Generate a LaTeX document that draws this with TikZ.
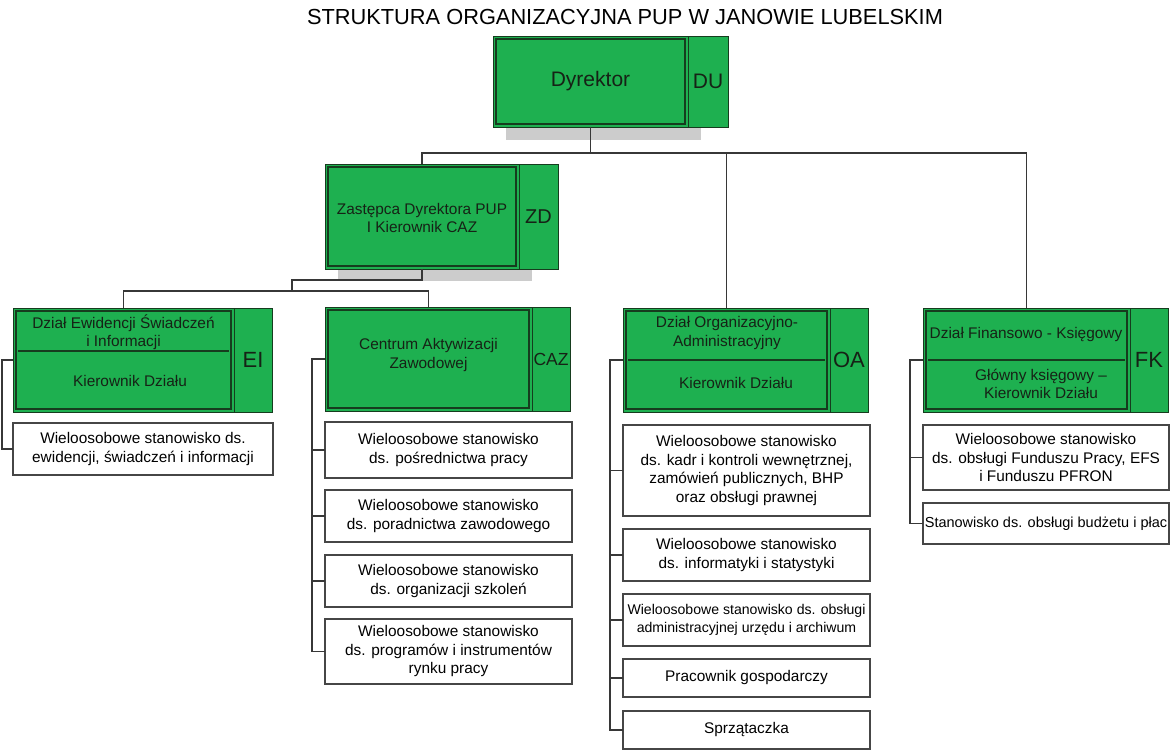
\documentclass[tikz,border=0pt]{standalone}
\usepackage{fontspec}
\setmainfont{Liberation Sans}
\definecolor{pupgreen}{RGB}{30,176,80}
\definecolor{dkgreen}{RGB}{22,60,30}
\definecolor{shadowgray}{RGB}{204,204,204}
\definecolor{linegray}{RGB}{55,55,55}
\definecolor{boxgray}{RGB}{70,70,70}
\definecolor{txtdark}{RGB}{22,34,22}
\tikzset{
  mainbox/.style={draw=dkgreen, fill=pupgreen, line width=0.8pt, anchor=north west,
    inner sep=0pt, outer sep=0pt, align=center, text=txtdark,
    font=\fontsize{15.4}{18.5}\selectfont,
    path picture={\draw[dkgreen, line width=1.6pt]
      ([shift={(3.2pt,-3.2pt)}]path picture bounding box.north west) rectangle
      ([shift={(-3.2pt,3.2pt)}]path picture bounding box.south east);}},
  codebox/.style={draw=dkgreen, fill=pupgreen, line width=0.8pt, anchor=north west,
    inner sep=0pt, outer sep=0pt, text=txtdark, font=\fontsize{22}{24}\selectfont},
  gtext/.style={align=center, text=txtdark, inner sep=0pt, font=\fontsize{15.4}{18.5}\selectfont},
  wbox/.style={draw=boxgray, fill=white, line width=1.1pt, anchor=north west,
    inner sep=0pt, outer sep=0pt, align=center, font=\fontsize{15.4}{18.5}\selectfont},
  conn/.style={draw=linegray, line width=1.1pt},
  divline/.style={draw=dkgreen, line width=1.1pt},
}
\begin{document}
\begin{tikzpicture}[x=1pt, y=-1pt]
\useasboundingbox (0,0) rectangle (1170,755);

% title
\node[font=\fontsize{21.8}{24}\selectfont, inner sep=0pt] (title) at (625,17)
  {STRUKTURA ORGANIZACYJNA PUP W JANOWIE LUBELSKIM};

% shadows
\fill[shadowgray] (506,49) rectangle (701,140);
\fill[shadowgray] (338,177) rectangle (532,281);

% helper coordinates
\coordinate (j1) at (590,153);
\coordinate (j2) at (292,280);
\coordinate (j3) at (292,291);
\coordinate (cazx) at (312,0);
\coordinate (oax) at (610,0);
\coordinate (fkx) at (910,0);
\coordinate (eix) at (2,0);

% top level
\node[mainbox, minimum width=195pt, minimum height=91pt] (dyr) at (493,36) {};
\node[gtext, font=\fontsize{21}{24}\selectfont] (dyrt) at (590.5,81) {Dyrektor};
\node[codebox, minimum width=40pt, minimum height=91pt, font=\fontsize{21}{24}\selectfont] (du) at (688,36) {DU};

\node[mainbox, minimum width=194pt, minimum height=105pt] (zd) at (325,164) {};
\node[gtext] (zdt) at (422,218) {Zastępca Dyrektora PUP\\I Kierownik CAZ};
\node[codebox, minimum width=39pt, minimum height=105pt, font=\fontsize{20}{24}\selectfont] (zdc) at (519,164) {ZD};

\node[mainbox, minimum width=221pt, minimum height=104pt] (ei) at (13,308) {};
\node[codebox, minimum width=38pt, minimum height=104pt] (eic) at (234,308) {EI};

\node[mainbox, minimum width=207pt, minimum height=104pt] (caz) at (325,307) {};
\node[gtext] (cazt) at (428.5,355) {Centrum Aktywizacji\\Zawodowej};
\node[codebox, minimum width=38pt, minimum height=104pt, font=\fontsize{17.5}{20}\selectfont] (cazc) at (532,307) {CAZ};

\node[mainbox, minimum width=207pt, minimum height=104pt] (oa) at (623,308) {};
\node[codebox, minimum width=38pt, minimum height=104pt] (oac) at (830,308) {OA};

\node[mainbox, minimum width=207pt, minimum height=104pt] (fk) at (923,308) {};
\node[codebox, minimum width=38pt, minimum height=104pt] (fkc) at (1130,308) {FK};

% dividers and texts in divided boxes
\draw[divline] (18,351) -- (229,351);
\node[gtext] (eit) at (123.5,332) {Dział Ewidencji Świadczeń\\i Informacji};
\node[gtext] (eik) at (130,381) {Kierownik Działu};

\draw[divline] (628,360) -- (825,360);
\node[gtext] (oat) at (727,333) {Dział Organizacyjno-\\Administracyjny};
\node[gtext] (oak) at (736,383) {Kierownik Działu};

\draw[divline] (928,360) -- (1125,360);
\node[gtext] (fkt) at (1026,335) {Dział Finansowo - Księgowy};
\node[gtext] (fkk) at (1041,384) {Główny księgowy –\\Kierownik Działu};

% white boxes
\node[wbox, minimum width=260pt, minimum height=52pt] (eis) at (13,423) {Wieloosobowe stanowisko ds.\\ewidencji, świadczeń i informacji};

\node[wbox, minimum width=247pt, minimum height=56pt] (c1) at (325,422) {Wieloosobowe stanowisko\\ds. pośrednictwa pracy};
\node[wbox, minimum width=247pt, minimum height=52pt] (c2) at (325,490) {Wieloosobowe stanowisko\\ds. poradnictwa zawodowego};
\node[wbox, minimum width=247pt, minimum height=52pt] (c3) at (325,555) {Wieloosobowe stanowisko\\ds. organizacji szkoleń};
\node[wbox, minimum width=247pt, minimum height=65pt] (c4) at (325,619) {Wieloosobowe stanowisko\\ds. programów i instrumentów\\rynku pracy};

\node[wbox, minimum width=247pt, minimum height=91pt] (o1) at (623,425) {Wieloosobowe stanowisko\\ds. kadr i kontroli wewnętrznej,\\zamówień publicznych, BHP\\oraz obsługi prawnej};
\node[wbox, minimum width=247pt, minimum height=52pt] (o2) at (623,529) {Wieloosobowe stanowisko\\ds. informatyki i statystyki};
\node[wbox, minimum width=247pt, minimum height=52pt, font=\fontsize{14.1}{17.5}\selectfont] (o3) at (623,594) {Wieloosobowe stanowisko ds. obsługi\\administracyjnej urzędu i archiwum};
\node[wbox, minimum width=247pt, minimum height=38pt] (o4) at (623,659) {Pracownik gospodarczy};
\node[wbox, minimum width=247pt, minimum height=38pt] (o5) at (623,711) {Sprzątaczka};

\node[wbox, minimum width=246pt, minimum height=65pt] (f1) at (923,425) {Wieloosobowe stanowisko\\ds. obsługi Funduszu Pracy, EFS\\i Funduszu PFRON};
\node[wbox, minimum width=246pt, minimum height=41pt, font=\fontsize{14.5}{17.5}\selectfont] (f2) at (923,503) {Stanowisko ds. obsługi budżetu i płac};

% connectors
\draw[conn] (dyr.south) -- (dyr.south |- j1);
\draw[conn] (zd.north) |- (fk.north |- j1) -- (fk.north);
\draw[conn] (oa.north) -- (oa.north |- j1);

\draw[conn] (zd.south) |- (j2) -- (j3);
\draw[conn] (ei.north) |- (j3) -| (caz.north);

\draw[conn] (ei.west) -| (eix |- eis.west) -- (eis.west);

\draw[conn] (caz.west) -| (cazx |- c4.west) -- (c4.west);
\draw[conn] (c1.west) -- (c1.west -| cazx);
\draw[conn] (c2.west) -- (c2.west -| cazx);
\draw[conn] (c3.west) -- (c3.west -| cazx);

\draw[conn] (oa.west) -| (oax |- o5.west) -- (o5.west);
\draw[conn] (o1.west) -- (o1.west -| oax);
\draw[conn] (o2.west) -- (o2.west -| oax);
\draw[conn] (o3.west) -- (o3.west -| oax);
\draw[conn] (o4.west) -- (o4.west -| oax);

\draw[conn] (fk.west) -| (fkx |- f2.west) -- (f2.west);
\draw[conn] (f1.west) -- (f1.west -| fkx);
\end{tikzpicture}
\end{document}
